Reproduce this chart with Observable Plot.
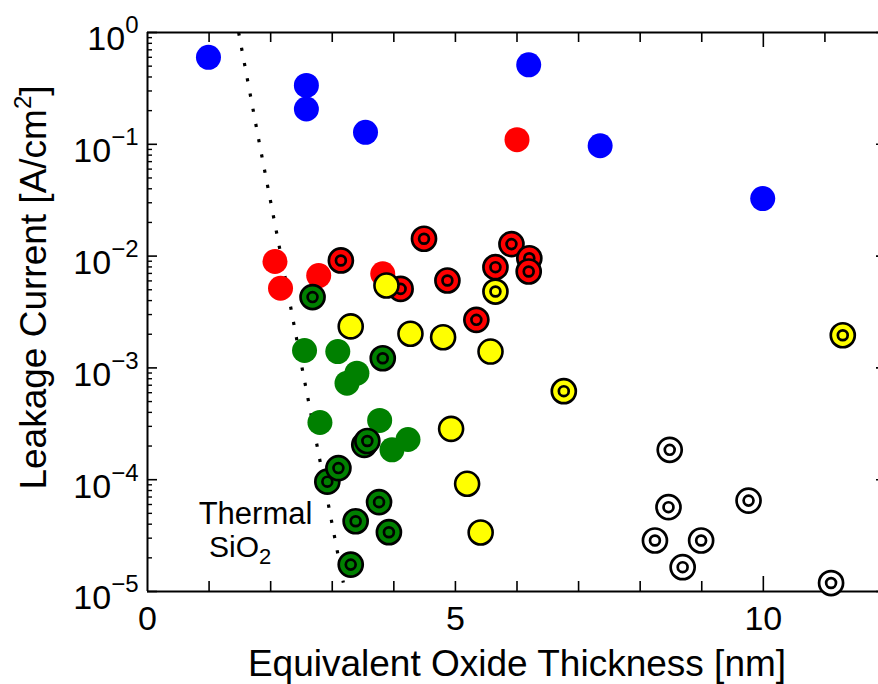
<!DOCTYPE html>
<html><head><meta charset="utf-8">
<script src="https://cdn.jsdelivr.net/npm/d3@7"></script>
<script src="https://cdn.jsdelivr.net/npm/@observablehq/plot@0.6"></script>
<style>html,body{margin:0;padding:0;background:#fff}svg{display:block}</style>
</head><body><div id="chart"></div>
<script>
// ---- data ----
const blueX = [0.99, 2.58, 2.58, 3.54, 6.19, 7.35, 9.99];
const blueY = [0.60, 0.336, 0.207, 0.128, 0.514, 0.097, 0.0327];

const redX = [6.00, 2.07, 2.16, 2.78, 3.82];
const redY = [0.110, 0.00895, 0.00516, 0.0067, 0.00694];

const greenX = [2.55, 3.09, 3.40, 3.24, 2.80, 3.77, 3.97, 4.23];
const greenY = [0.00143, 0.0014, 0.000897, 0.00073, 0.000325, 0.000339, 0.000185, 0.000229];

const redRingX = [3.14, 4.49, 4.11, 4.87, 5.91, 6.20, 5.65, 6.19, 5.34];
const redRingY = [0.00914, 0.0143, 0.00509, 0.00605, 0.0128, 0.00957, 0.00796, 0.00728, 0.00269];

const greenRingX = [2.68, 3.82, 3.52, 3.57, 2.92, 3.10, 3.76, 3.38, 3.92, 3.30];
const greenRingY = [0.0043, 0.00122, 0.000205, 0.000222, 0.000096, 0.000127, 0.000063, 0.0000425, 0.0000339, 0.0000174];

const yellowX = [3.88, 3.30, 4.27, 4.80, 5.57, 4.93, 5.19, 5.41];
const yellowY = [0.00546, 0.00235, 0.00202, 0.00188, 0.00140, 0.000285, 0.0000919, 0.0000337];

const yellowRingX = [5.65, 6.76, 11.29];
const yellowRingY = [0.00482, 0.000619, 0.00196];

const whiteRingX = [8.48, 8.46, 8.24, 8.99, 8.69, 9.76, 11.10];
const whiteRingY = [0.000185, 0.0000568, 0.0000286, 0.0000286, 0.0000165, 0.000065, 0.0000119];

const thermalX = [1.48, 1.82, 2.17, 2.51, 2.86, 3.18];
const thermalY = [1, 0.1, 0.01, 0.001, 0.0001, 0.000012];

const xTickLabels = [0, 5, 10];
const xMinorTicks = [1, 2, 3, 4, 5, 6, 7, 8, 9, 11];
const xMajorTicks = [10];
const yDecades = [1e-5, 1e-4, 1e-3, 1e-2, 1e-1, 1];
const yMinorTicks = [];
for (const d of yDecades.slice(0, 5)) for (let k = 2; k <= 9; k++) yMinorTicks.push(d * k);

const xTitle = "Equivalent Oxide Thickness [nm]";
const yTitle = "Leakage Current [A/cm^{2}]";
const annoLines = [
  {text: "Thermal", x: 1.754, y: 4.97e-5, fs: 31},
  {text: "SiO_{2}", x: 1.505, y: 2.47e-5, fs: 30}
];

// ---- helpers ----
const pts = (X, Y) => X.map((x, i) => ({x, y: Y[i]}));
const ringSymbol = {
  draw(ctx, size) {
    const r = Math.sqrt(size / Math.PI);
    ctx.moveTo(r, 0); ctx.arc(0, 0, r, 0, 2 * Math.PI);
    const r2 = r * 0.41;
    ctx.moveTo(r2, 0); ctx.arc(0, 0, r2, 0, 2 * Math.PI);
  }
};
const W = 878, H = 684, ML = 147, MR = -8, MT = 32, MB = 93;
const FW = W - ML - MR, FH = H - MT - MB;
const expFmt = d => "10^{" + String(Math.round(Math.log10(d))).replace("-", "\u2212") + "}";

const plainDot = (X, Y, color) => Plot.dot(pts(X, Y), {x: "x", y: "y", r: 12.5, fill: color, stroke: "none"});
const plainOutlined = (X, Y, color) => Plot.dot(pts(X, Y), {x: "x", y: "y", r: 12, fill: color, stroke: "black", strokeWidth: 2.6});
const ringDot = (X, Y, color) => Plot.dot(pts(X, Y), {x: "x", y: "y", r: 12, symbol: ringSymbol, fill: color, stroke: "black", strokeWidth: 2.7});

const chart = Plot.plot({
  width: W, height: H,
  marginLeft: ML, marginRight: MR, marginTop: MT, marginBottom: MB,
  x: {domain: [0, 12], axis: null},
  y: {type: "log", domain: [1e-5, 1], axis: null},
  style: {fontFamily: "'Liberation Sans', Arial, Helvetica, sans-serif", background: "white", color: "black"},
  marks: [
    // ticks (inward)
    Plot.tickX(xMinorTicks, {x: d => d, insetTop: FH - 10, stroke: "black", strokeWidth: 1.6}),
    Plot.tickX(xMinorTicks, {x: d => d, insetBottom: FH - 10, stroke: "black", strokeWidth: 1.6}),
    Plot.tickX(xMajorTicks, {x: d => d, insetTop: FH - 15, stroke: "black", strokeWidth: 1.6}),
    Plot.tickX(xMajorTicks, {x: d => d, insetBottom: FH - 15, stroke: "black", strokeWidth: 1.6}),
    Plot.tickY(yDecades, {y: d => d, insetRight: FW - 10, stroke: "black", strokeWidth: 1.6}),
    Plot.tickY(yMinorTicks, {y: d => d, insetRight: FW - 5, stroke: "black", strokeWidth: 1.4}),
    Plot.tickY(yDecades, {y: d => d, insetLeft: FW - 10, stroke: "black", strokeWidth: 1.6}),
    Plot.tickY(yMinorTicks, {y: d => d, insetLeft: FW - 5, stroke: "black", strokeWidth: 1.4}),
    // frame
    Plot.ruleY([1], {stroke: "black", strokeWidth: 2}),
    Plot.ruleY([1e-5], {stroke: "black", strokeWidth: 2}),
    Plot.ruleX([0], {stroke: "black", strokeWidth: 2}),
    Plot.ruleX([12], {stroke: "black", strokeWidth: 2}),
    // axes labels
    Plot.axisY(yDecades, {tickSize: 0, tickPadding: 9, fontSize: 34, dy: 7, tickFormat: expFmt, label: null}),
    Plot.axisX(xTickLabels, {tickSize: 0, tickPadding: 14, fontSize: 34, tickFormat: d => String(d), label: null}),
    Plot.text([xTitle], {text: d => d, frameAnchor: "bottom", textAnchor: "middle", lineAnchor: "middle", dy: 73, fontSize: 37, ariaLabel: "x-title"}),
    Plot.text([yTitle], {text: d => d, frameAnchor: "left", textAnchor: "middle", lineAnchor: "middle", rotate: -90, dx: -113, dy: -24.5, fontSize: 37, ariaLabel: "y-title"}),
    // thermal SiO2 line
    Plot.line(pts(thermalX, thermalY), {x: "x", y: "y", stroke: "black", strokeWidth: 3.2, strokeDasharray: "3.2,12.3", strokeLinecap: "butt"}),
    Plot.text(annoLines, {x: "x", y: "y", text: "text", fontSize: d => d.fs, ariaLabel: "anno"}),
    // data
    plainDot(blueX, blueY, "#0000ff"),
    plainDot(redX, redY, "#ff0000"),
    plainDot(greenX, greenY, "#008000"),
    ringDot(redRingX, redRingY, "#ff0000"),
    ringDot(greenRingX, greenRingY, "#008000"),
    plainOutlined(yellowX, yellowY, "#ffff00"),
    ringDot(yellowRingX, yellowRingY, "#ffff00"),
    ringDot(whiteRingX, whiteRingY, "#ffffff")
  ]
});

// superscripts / subscripts as tspans
const scriptStyle = {
  "y-axis tick label": {sup: [24, -17]},
  "y-title": {sup: [25, -13]},
  "anno": {sub: [22, 7]}
};
d3.select(chart).selectAll("text").each(function () {
  const t = this.textContent;
  if (!/[\^_]\{/.test(t)) return;
  const g = this.closest("g[aria-label]");
  const key = g ? g.getAttribute("aria-label") : "";
  const st = scriptStyle[key] || {sup: [24, -15], sub: [22, 7]};
  const parts = t.split(/([\^_]\{[^}]*\})/).filter(p => p.length);
  this.textContent = "";
  let shift = 0;
  for (const p of parts) {
    const m = p.match(/^([\^_])\{([^}]*)\}$/);
    const ts = d3.select(this).append("tspan");
    if (m) {
      const [fs, dy] = m[1] === "^" ? st.sup : st.sub;
      ts.attr("font-size", fs).attr("dy", dy - shift).text(m[2]);
      shift = dy;
    } else {
      if (shift) ts.attr("dy", -shift);
      shift = 0;
      ts.text(p);
    }
  }
});

document.getElementById("chart").appendChild(chart);
</script></body></html>
